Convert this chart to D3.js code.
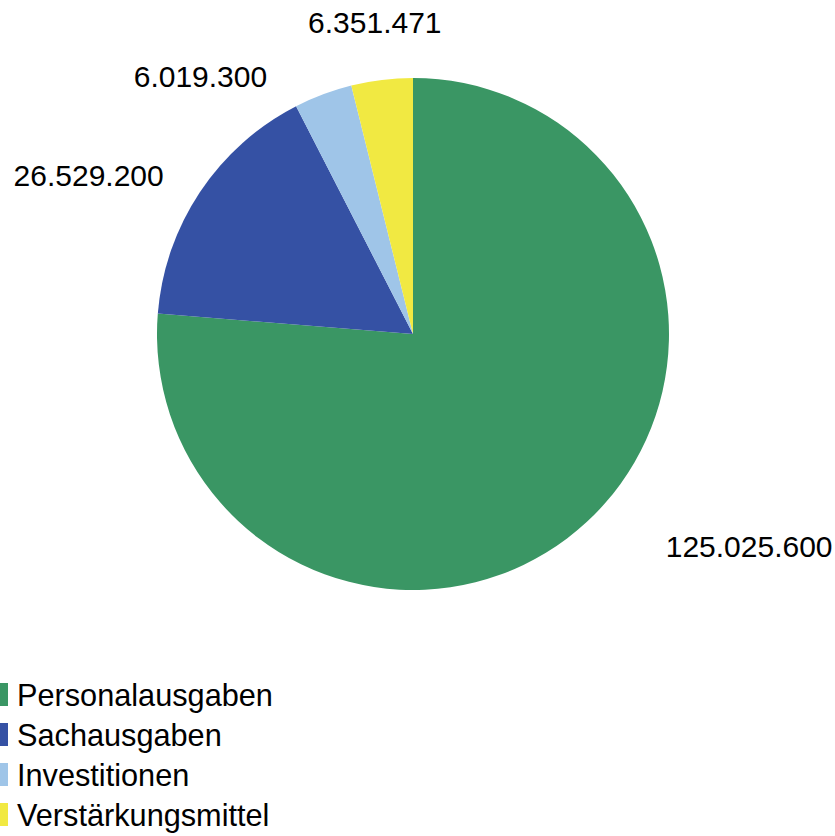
<!DOCTYPE html>
<meta charset="utf-8">
<style>
body { margin: 0; background: #fff; }
text { font-family: Arial, "Liberation Sans", sans-serif; fill: #000; }
</style>
<svg width="835" height="836"></svg>
<script src="https://cdn.jsdelivr.net/npm/d3@7"></script>
<script>

var categories = ["Personalausgaben", "Sachausgaben", "Investitionen", "Verstärkungsmittel"];
var values = [125025600, 26529200, 6019300, 6351471];
var colors = ["#3a9664", "#3551a4", "#9fc5e8", "#f1e942"];

// small hand nudges so labels sit where the original put them
var labelNudge = [[56, -1], [-8, 2], [-44, 14], [-3, -6]];

var svg = d3.select("svg"),
    cx = 413,
    cy = 334,
    radius = 256;

var fmt = function(v) { return d3.format(",")(v).replace(/,/g, "."); };

var data = categories.map(function(c, i) { return {name: c, value: values[i], color: colors[i], i: i}; });

var pie = d3.pie()
    .value(function(d) { return d.value; })
    .sort(null);

var arcs = pie(data);

var arc = d3.arc().innerRadius(0).outerRadius(radius);
var labelArc = d3.arc().innerRadius(radius + 34).outerRadius(radius + 34);

var g = svg.append("g").attr("transform", "translate(" + cx + "," + cy + ")");

g.selectAll("path")
  .data(arcs)
  .enter().append("path")
    .attr("d", arc)
    .attr("fill", function(d) { return d.data.color; });

g.selectAll("text.label")
  .data(arcs)
  .enter().append("text")
    .attr("class", "label")
    .attr("font-size", 30)
    .each(function(d) {
      var p = labelArc.centroid(d),
          mid = (d.startAngle + d.endAngle) / 2,
          s = Math.sin(mid),
          n = labelNudge[d.data.i],
          anchor = Math.abs(s) < 0.2 ? "middle" : (s > 0 ? "start" : "end");
      d3.select(this)
        .attr("text-anchor", anchor)
        .attr("x", p[0] + n[0])
        .attr("y", p[1] + n[1])
        .attr("dy", anchor == "middle" ? "-0.25em" : "0.36em")
        .text(fmt(d.data.value));
    });

var legend = svg.append("g").attr("transform", "translate(0,683)");

var item = legend.selectAll("g")
  .data(data)
  .enter().append("g")
    .attr("transform", function(d, i) { return "translate(0," + (i * 40) + ")"; });

item.append("rect")
    .attr("x", -16)
    .attr("y", 0)
    .attr("width", 24)
    .attr("height", 23)
    .attr("fill", function(d) { return d.color; });

item.append("text")
    .attr("x", 17)
    .attr("y", 23)
    .attr("font-size", 30.7)
    .text(function(d) { return d.name; });

</script>
